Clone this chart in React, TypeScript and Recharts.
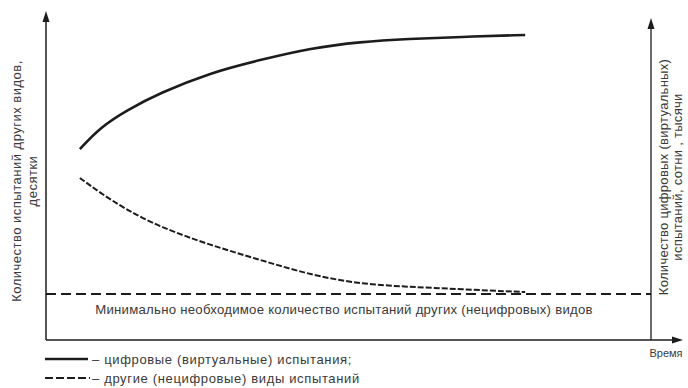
import React from "react";
import { ComposedChart, Line, XAxis, YAxis, ReferenceLine, Customized } from "recharts";

const timePoints = [5.6, 9, 13.4, 18.8, 27, 35.4, 43.8, 51.9, 60, 68.4, 79.2];
const digitalTests = [58.2, 64.9, 70.1, 75.3, 81.4, 85.4, 89.0, 90.9, 91.8, 92.4, 93.0];
const otherTests = [49.4, 44.8, 39.6, 34.5, 29.0, 24.4, 19.8, 17.1, 16.2, 15.5, 14.6];
const minimumOther = 14;

const data = timePoints.map((t, i) => ({ t, digital: digitalTests[i], other: otherTests[i] }));

const FONT = "'Liberation Sans', Arial, sans-serif";
const TXT = "#3a3a3a";
const INK = "#1c1c1c";

const Decor = () => (
  <g>
    {/* left axis */}
    <line x1={46} y1={340} x2={46} y2={20} stroke={INK} strokeWidth={1.5} />
    <polygon points="46,11 42.5,22 49.5,22" fill={INK} />
    {/* right axis */}
    <line x1={651} y1={340} x2={651} y2={27} stroke={INK} strokeWidth={1.3} />
    <polygon points="651,18 647.5,29 654.5,29" fill={INK} />
    {/* bottom axis */}
    <line x1={46} y1={340} x2={674} y2={340} stroke={INK} strokeWidth={1.5} />
    <polygon points="683,340 672,336.5 672,343.5" fill={INK} />
    <text x={666} y={357} textAnchor="middle" fontFamily={FONT} fontSize={11} fill={TXT}>Время</text>
    {/* left label */}
    <text transform="translate(21,181) rotate(-90)" textAnchor="middle" fontFamily={FONT} fontSize={13} letterSpacing={0.5} fill={TXT}>
      Количество испытаний других видов,
    </text>
    <text transform="translate(37,181) rotate(-90)" textAnchor="middle" fontFamily={FONT} fontSize={13} letterSpacing={0.5} fill={TXT}>
      десятки
    </text>
    {/* right label */}
    <text transform="translate(668,177) rotate(-90)" textAnchor="middle" fontFamily={FONT} fontSize={13} letterSpacing={0.3} fill={TXT}>
      Количество цифровых (виртуальных)
    </text>
    <text transform="translate(682,177) rotate(-90)" textAnchor="middle" fontFamily={FONT} fontSize={13} letterSpacing={0.3} fill={TXT}>
      испытаний, сотни , тысячи
    </text>
    {/* minimum text */}
    <text x={344} y={314} textAnchor="middle" fontFamily={FONT} fontSize={13.2} letterSpacing={0.25} fill={TXT}>
      Минимально необходимое количество испытаний других (нецифровых) видов
    </text>
    {/* legend */}
    <line x1={45} y1={359} x2={88} y2={359} stroke={INK} strokeWidth={2.6} />
    <text x={92} y={363.5} fontFamily={FONT} fontSize={13} letterSpacing={0.65} fill={TXT}>– цифровые (виртуальные) испытания;</text>
    <line x1={45} y1={378} x2={90} y2={378} stroke={INK} strokeWidth={2} strokeDasharray="8 3" />
    <text x={92} y={382.5} fontFamily={FONT} fontSize={13} letterSpacing={0.65} fill={TXT}>– другие (нецифровые) виды испытаний</text>
  </g>
);

export default function App() {
  return (
    <div style={{ position: "absolute", left: 0, top: 0, background: "#fff" }}>
      <ComposedChart width={688} height={388} data={data} margin={{ top: 12, left: 46, right: 37, bottom: 48 }}>
        <XAxis dataKey="t" type="number" domain={[0, 100]} hide />
        <YAxis type="number" domain={[0, 100]} hide />
        <ReferenceLine y={minimumOther} stroke={INK} strokeWidth={2} strokeDasharray="10 5" />
        <Line dataKey="digital" type="basis" stroke={INK} strokeWidth={2.6} dot={false} isAnimationActive={false} />
        <Line dataKey="other" type="basis" stroke={INK} strokeWidth={2} strokeDasharray="6 2" dot={false} isAnimationActive={false} />
        <Customized component={Decor} />
      </ComposedChart>
    </div>
  );
}
